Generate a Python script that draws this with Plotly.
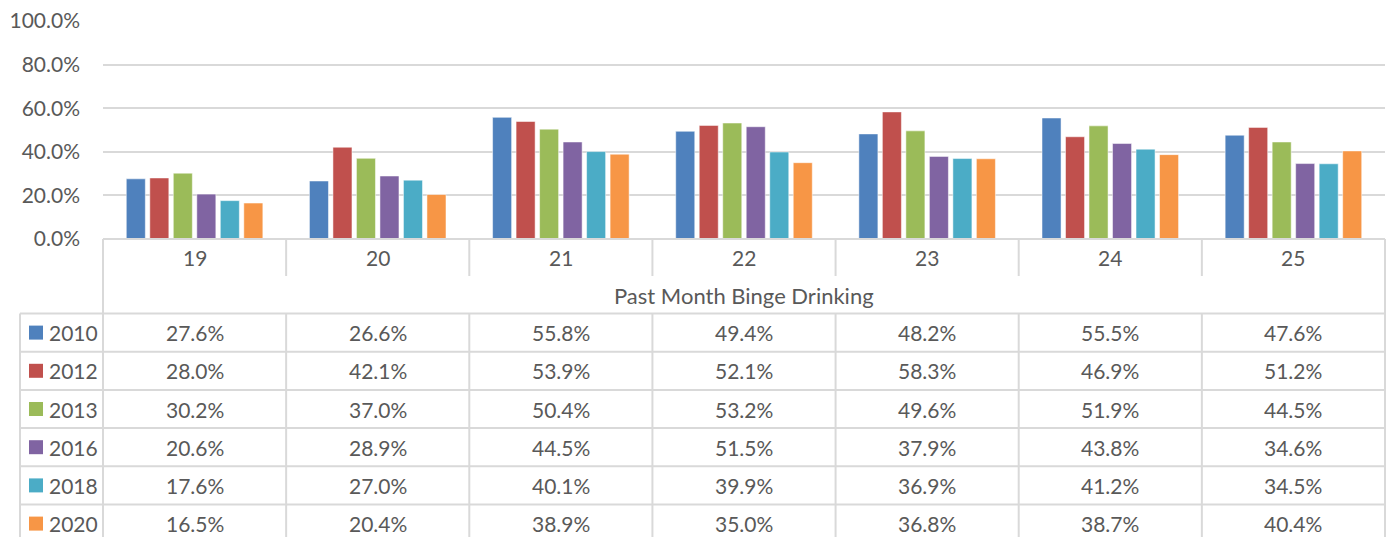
import plotly.graph_objects as go

ages = ["19", "20", "21", "22", "23", "24", "25"]
years = ["2010", "2012", "2013", "2016", "2018", "2020"]
values = {
    "2010": [27.6, 26.6, 55.8, 49.4, 48.2, 55.5, 47.6],
    "2012": [28.0, 42.1, 53.9, 52.1, 58.3, 46.9, 51.2],
    "2013": [30.2, 37.0, 50.4, 53.2, 49.6, 51.9, 44.5],
    "2016": [20.6, 28.9, 44.5, 51.5, 37.9, 43.8, 34.6],
    "2018": [17.6, 27.0, 40.1, 39.9, 36.9, 41.2, 34.5],
    "2020": [16.5, 20.4, 38.9, 35.0, 36.8, 38.7, 40.4],
}
colors = ["#4F81BD", "#C0504D", "#9BBB59", "#8064A2", "#4BACC6", "#F79646"]
table_title = "Past Month Binge Drinking"

W, H = 1389, 537
FONT = "Lato"
FS = 21
FS_TITLE = 22
TXT = "#595959"
LINE = "#D9D9D9"

def px(x):
    return x / W

def py(y):
    return 1 - y / H

x0, x1 = 103, 1385
y_top, y_zero = 21, 239

fig = go.Figure()
for yr, c in zip(years, colors):
    fig.add_trace(go.Bar(
        x=ages, y=[v / 100 for v in values[yr]], name=yr,
        marker=dict(color=c, line=dict(color="rgba(255,255,255,0.5)", width=1)),
        showlegend=False,
    ))

shapes = []
annotations = []

def hline(y, xa, xb, w=2):
    shapes.append(dict(type="line", xref="paper", yref="paper",
                       x0=px(xa), x1=px(xb), y0=py(y), y1=py(y),
                       line=dict(color=LINE, width=w)))

def vline(x, ya, yb, w=2):
    shapes.append(dict(type="line", xref="paper", yref="paper",
                       x0=px(x), x1=px(x), y0=py(ya), y1=py(yb),
                       line=dict(color=LINE, width=w)))

def text(x, y, s, xref="paper", xanchor="center", size=FS):
    annotations.append(dict(x=x, xref=xref, y=py(y), yref="paper", text=s,
                            showarrow=False, xanchor=xanchor, yanchor="middle",
                            font=dict(family=FONT, size=size, color=TXT)))

ncat = len(ages)
colw = (x1 - x0) / ncat
col_edges = [x0 + i * colw for i in range(ncat + 1)]

cat_row_bot = 276
title_row_bot = 313.5
row_h = 38.2
leg_left = 20
bottom = 560

hline(y_zero, x0, x1)
for xe in col_edges:
    vline(xe, y_zero, cat_row_bot)
vline(x0, cat_row_bot, bottom)
vline(x1, cat_row_bot, bottom)
hline(title_row_bot, leg_left, x1)
for i in range(len(years)):
    hline(title_row_bot + (i + 1) * row_h, leg_left, x1)
for xe in col_edges[1:-1]:
    vline(xe, title_row_bot, bottom)
vline(leg_left, title_row_bot, bottom)

for i, a in enumerate(ages):
    text(i, 257.5, a, xref="x")
text(px((x0 + x1) / 2), 295, table_title, size=FS_TITLE)

for r, (yr, c) in enumerate(zip(years, colors)):
    yc = title_row_bot + (r + 0.5) * row_h
    shapes.append(dict(type="rect", xref="paper", yref="paper",
                       x0=px(29), x1=px(43), y0=py(yc - 7), y1=py(yc + 7),
                       fillcolor=c, line=dict(width=0)))
    text(px(47), yc, yr, xanchor="left")
    for i in range(ncat):
        text(i, yc, f"{values[yr][i]:.1f}%", xref="x")

fig.update_layout(
    width=W, height=H,
    margin=dict(l=0, r=0, t=0, b=0, autoexpand=False),
    paper_bgcolor="white", plot_bgcolor="white",
    barmode="group", bargap=0.23, bargroupgap=0.19,
    font=dict(family=FONT, size=FS, color=TXT),
    xaxis=dict(type="category", range=[-0.5, ncat - 0.5], domain=[px(x0), px(x1)],
               showticklabels=False, showgrid=False, zeroline=False,
               showline=False, ticks="", automargin=False),
    yaxis=dict(domain=[py(y_zero), py(y_top)], range=[0, 1], dtick=0.2,
               tickformat=".1%", showgrid=True, gridcolor=LINE, gridwidth=2,
               zeroline=False, showline=False, ticks="", ticklabelstandoff=22,
               automargin=False,
               tickfont=dict(family=FONT, size=FS, color=TXT)),
    shapes=shapes, annotations=annotations,
)

fig.write_html("out.html", config={"displayModeBar": False},
               post_script="document.body.style.margin='0';document.body.style.overflow='hidden';")
